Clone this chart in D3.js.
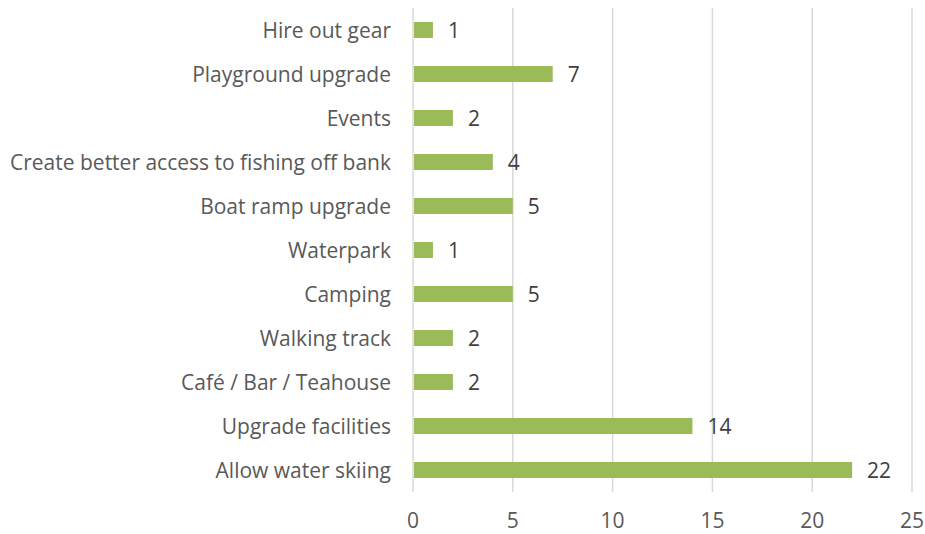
<!DOCTYPE html>
<html><head><meta charset="utf-8">
<script src="https://cdn.jsdelivr.net/npm/d3@7"></script>
<style>body{margin:0;background:#fff}</style>
</head><body>
<svg id="c" width="925" height="534"></svg>
<script>
const categories = ["Hire out gear","Playground upgrade","Events","Create better access to fishing off bank","Boat ramp upgrade","Waterpark","Camping","Walking track","Café / Bar / Teahouse","Upgrade facilities","Allow water skiing"];
const values = [1,7,2,4,5,1,5,2,2,14,22];
const xTicks = [0,5,10,15,20,25];

const svg = d3.select("#c");
const font = "'Open Sans', sans-serif";
const fs = 21;
const x = d3.scaleLinear().domain([0,25]).range([413,912]);
const y = d3.scaleBand().domain(categories).range([8,492]).paddingInner(0.636).paddingOuter(0.318);

svg.append("g").selectAll("line").data(xTicks).join("line")
  .attr("x1",d=>x(d)).attr("x2",d=>x(d)).attr("y1",8).attr("y2",492)
  .attr("stroke","#d9d9d9").attr("stroke-width",1.5);

svg.append("g").selectAll("rect").data(values).join("rect")
  .attr("x",x(0)+1).attr("y",(d,i)=>y(categories[i]))
  .attr("width",d=>x(d)-x(0)-1).attr("height",y.bandwidth())
  .attr("fill","#9bbb59");

svg.append("g").selectAll("text").data(values).join("text")
  .attr("x",d=>x(d)+15).attr("y",(d,i)=>y(categories[i])+y.bandwidth()/2)
  .attr("dy","0.36em").attr("font-family",font).attr("font-size",fs).attr("fill","#404040")
  .text(d=>d);

svg.append("g").selectAll("text").data(categories).join("text")
  .attr("x",391).attr("y",d=>y(d)+y.bandwidth()/2)
  .attr("dy","0.36em").attr("text-anchor","end").attr("font-family",font).attr("font-size",fs).attr("fill","#595959")
  .text(d=>d);

svg.append("g").selectAll("text").data(xTicks).join("text")
  .attr("x",d=>x(d)).attr("y",520.5).attr("dy","0.36em").attr("text-anchor","middle")
  .attr("font-family",font).attr("font-size",fs).attr("fill","#595959")
  .text(d=>d);
</script>
</body></html>
